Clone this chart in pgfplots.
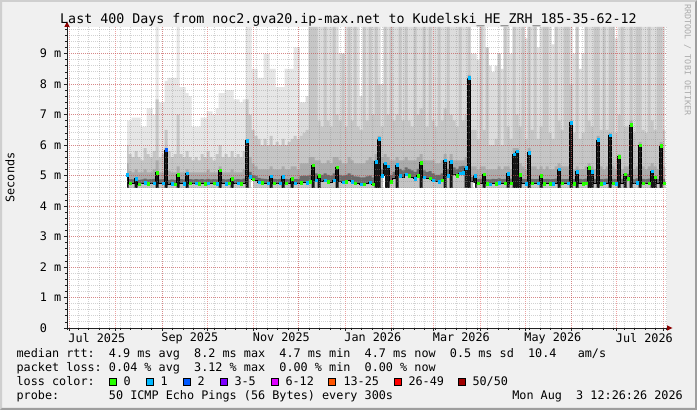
\documentclass[border=0pt]{standalone}
\usepackage{fontspec}
\setmainfont{DejaVu Sans Mono}
\usepackage{pgfplots}
\pgfplotsset{compat=1.18}
\usepackage{pgfplotstable}
\frenchspacing
\newcommand\legfont{\fontsize{11.8pt}{14pt}\selectfont}
\newcommand\titfont{\fontsize{13.3pt}{16pt}\selectfont}
\definecolor{bgc}{HTML}{F0F0F0}
\definecolor{shadeA}{HTML}{CFCFCF}
\definecolor{shadeB}{HTML}{9E9E9E}
\definecolor{axisc}{HTML}{202020}
\definecolor{arrowc}{HTML}{8B0000}
\definecolor{gridc}{HTML}{8F8F8F}
\definecolor{mgridc}{HTML}{DE3030}
\definecolor{sAearly}{HTML}{E6E6E6}
\definecolor{sA}{HTML}{DCDCDC}
\definecolor{sB}{HTML}{C6C6C6}
\definecolor{sC}{HTML}{ABABAB}
\definecolor{sD}{HTML}{6A6A6A}
\definecolor{sBelow}{HTML}{C4C4C4}
\definecolor{sSpk}{HTML}{161616}
\definecolor{lc0}{HTML}{26FF00}
\definecolor{lc1}{HTML}{00B8FF}
\definecolor{lc2}{HTML}{0059FF}
\definecolor{lc3}{HTML}{7E00FF}
\definecolor{lc4}{HTML}{DD00FF}
\definecolor{lc5}{HTML}{FF5500}
\definecolor{lc6}{HTML}{FF0000}
\definecolor{lc7}{HTML}{A10000}
\definecolor{credit}{HTML}{ABABAB}

\pgfplotstableread{
d q3 q2 q3m q1 med sp c
40 6.8 6.0 5.4 5.03 5.03 5.03 c
42 6.8 5.7 5.15 4.88 4.74 0 g
44 6.9 5.6 5.1 4.87 4.73 0 n
46 6.9 5.8 5.2 4.9 4.9 4.9 c
48 6.9 5.6 5.1 4.86 4.72 0 g
50 6.6 5.5 5.1 4.87 4.73 0 n
52 6.6 5.9 5.2 4.9 4.76 0 c
54 7.2 5.7 5.1 4.87 4.73 0 g
56 7.2 5.6 5.1 4.88 4.74 0 n
58 7.0 5.8 5.2 4.89 4.75 0 c
60 9.87 7.5 5.5 5.1 5.1 5.1 g
62 7.4 5.6 5.1 4.87 4.73 0 n
64 7.4 5.7 5.1 4.88 4.74 0 c
66 8.1 6.5 5.9 5.84 5.84 5.84 b
68 8.2 5.8 5.15 4.86 4.72 0 n
70 8.2 5.6 5.1 4.87 4.73 0 c
72 8.2 5.7 5.1 4.86 4.72 0 g
74 9.87 7.0 5.3 5.03 5.03 5.03 g
76 7.9 5.7 5.1 4.88 4.74 0 n
78 7.9 5.6 5.1 4.87 4.73 0 c
80 7.7 5.8 5.2 5.08 5.08 5.08 c
82 7.6 5.6 5.1 4.88 4.74 0 g
84 6.6 5.5 5.1 4.87 4.73 0 n
86 6.6 5.6 5.1 4.88 4.74 0 c
88 6.6 5.5 5.1 4.87 4.73 0 g
90 6.9 5.7 5.1 4.88 4.74 0 n
92 6.9 5.6 5.1 4.87 4.73 0 g
94 7.1 5.8 5.2 4.89 4.75 0 c
96 7.1 5.6 5.1 4.87 4.73 0 n
98 7.0 5.5 5.1 4.88 4.74 0 g
100 7.2 5.7 5.1 4.87 4.73 0 c
102 7.7 6.0 5.3 5.18 5.18 5.18 g
104 7.7 5.6 5.1 4.88 4.74 0 n
106 7.8 5.7 5.1 4.87 4.73 0 c
108 7.8 5.6 5.1 4.88 4.74 0 g
110 7.8 5.8 5.2 4.9 4.9 4.9 g
112 7.5 5.6 5.1 4.87 4.73 0 n
114 7.5 5.7 5.1 4.88 4.74 0 c
116 7.4 5.6 5.1 4.87 4.73 0 g
118 7.5 5.8 5.2 4.9 4.76 0 n
120 9.87 7.5 6.2 6.14 6.14 6.14 c
122 9.87 7.0 5.6 5.12 4.96 0 c
124 8.5 6.5 5.4 5.02 4.88 0 g
126 8.5 6.3 5.3 4.99 4.85 0 n
128 8.2 6.2 5.2 4.92 4.78 0 c
130 8.2 6.0 5.2 4.9 4.76 0 g
132 9.0 6.2 5.2 4.89 4.75 0 n
134 9.0 6.0 5.2 4.88 4.74 0 c
136 8.5 6.3 5.3 4.97 4.97 4.97 c
138 8.5 6.0 5.2 4.89 4.75 0 g
140 7.9 6.1 5.2 4.88 4.74 0 n
142 7.9 6.0 5.2 4.89 4.75 0 c
144 7.9 6.2 5.3 4.96 4.96 4.96 c
146 8.5 6.0 5.2 4.89 4.75 0 g
148 8.5 6.1 5.2 4.88 4.74 0 n
150 8.5 6.2 5.3 4.9 4.9 4.9 g
152 9.2 6.3 5.3 4.88 4.74 0 c
154 9.2 6.2 5.2 4.89 4.75 0 n
156 7.4 6.3 5.4 4.98 4.76 0 g
158 7.4 6.4 5.4 5.0 4.78 0 n
160 7.6 6.5 5.4 4.99 4.77 0 c
162 9.87 9.87 5.6 5.02 4.8 0 g
164 9.87 9.87 5.6 5.34 5.34 5.34 g
166 9.87 9.87 5.5 5.07 4.85 0 c
168 9.87 6.8 5.5 5.0 5.0 5.0 g
170 9.87 6.6 5.4 5.02 4.8 0 n
172 9.87 9.87 5.4 5.07 4.85 0 c
174 9.87 6.8 5.5 5.02 4.8 0 g
176 9.87 6.6 5.4 5.0 4.78 0 n
178 9.87 9.87 5.6 5.07 4.85 0 c
180 9.87 7.0 5.6 5.28 5.28 5.28 g
182 9.0 6.8 5.5 5.02 4.8 0 n
184 9.0 9.0 5.4 5.0 4.78 0 c
186 9.87 6.6 5.4 5.02 4.8 0 g
188 9.87 9.87 5.6 5.07 4.85 0 n
190 9.87 6.8 5.5 5.02 4.8 0 c
192 9.87 9.87 5.4 4.97 4.75 0 g
194 9.87 6.6 5.4 4.96 4.74 0 n
196 7.6 6.5 5.4 4.94 4.72 0 c
198 9.87 9.87 5.4 4.94 4.72 0 g
200 9.87 6.8 5.5 4.97 4.75 0 n
202 9.87 9.87 5.6 5.0 4.78 0 c
204 9.87 7.0 5.5 4.94 4.72 0 g
206 9.87 9.87 5.7 5.45 5.45 5.45 c
208 9.87 8.0 6.3 6.2 6.2 6.2 c
210 8.0 6.6 5.6 5.2 5.0 0 c
212 9.87 9.87 5.7 5.4 5.4 5.4 c
214 9.87 7.0 5.6 5.3 5.3 5.3 c
216 9.87 9.87 5.5 5.02 4.8 0 g
218 9.87 6.8 5.5 5.12 4.9 0 n
220 9.87 7.0 5.6 5.35 5.35 5.35 c
222 9.87 9.87 5.5 5.22 5.0 0 c
224 9.87 6.8 5.5 5.17 4.95 0 n
226 9.87 9.87 5.6 5.27 5.05 0 c
228 9.87 6.8 5.5 5.22 5.0 0 g
230 9.87 6.6 5.5 5.17 4.95 0 n
232 9.87 9.87 5.5 5.12 4.9 0 c
234 9.87 7.0 5.6 5.22 5.0 0 g
236 9.87 7.2 5.7 5.42 5.42 5.42 g
238 9.87 9.87 5.5 5.17 4.95 0 c
240 9.87 6.6 5.5 5.12 4.9 0 n
242 9.87 9.87 5.5 5.14 4.92 0 g
244 9.87 6.8 5.5 5.07 4.85 0 c
246 9.87 6.6 5.4 5.02 4.8 0 n
248 9.87 9.87 5.4 5.02 4.8 0 c
250 9.87 6.8 5.5 5.07 4.85 0 g
252 9.87 7.2 5.7 5.5 5.5 5.5 c
254 9.87 9.87 5.5 5.22 5.0 0 c
256 9.87 7.0 5.7 5.45 5.45 5.45 c
258 9.87 6.8 5.5 5.27 5.05 0 n
260 9.87 6.6 5.5 5.22 5.0 0 g
262 9.87 9.87 5.5 5.3 5.08 0 c
264 9.87 6.8 5.5 5.32 5.1 0 c
266 9.87 7.0 5.6 5.25 5.25 5.25 c
268 9.87 9.87 8.3 8.2 8.2 8.2 c
270 9.0 6.5 5.3 4.95 4.8 0 n
272 9.0 6.5 5.3 5.0 5.0 5.0 c
274 8.8 6.2 5.2 4.89 4.74 0 g
276 9.87 9.87 5.3 4.9 4.75 0 n
278 9.87 6.5 5.3 5.05 5.05 5.05 g
280 9.2 9.2 5.2 4.88 4.73 0 g
282 8.6 6.0 5.2 4.87 4.72 0 c
284 8.4 6.0 5.2 4.89 4.74 0 n
286 8.6 6.2 5.2 4.88 4.73 0 g
288 9.0 9.0 5.3 4.91 4.76 0 c
290 8.5 6.0 5.2 4.88 4.73 0 n
292 9.87 9.87 5.3 4.89 4.74 0 g
294 9.87 6.6 5.3 5.06 5.06 5.06 c
296 9.0 6.2 5.2 4.9 4.75 0 g
298 9.87 9.87 5.9 5.7 5.7 5.7 c
300 9.87 7.0 5.9 5.8 5.8 5.8 c
302 9.87 6.6 5.4 5.03 5.03 5.03 g
304 9.87 9.87 5.3 4.89 4.74 0 n
306 9.5 6.2 5.2 4.88 4.73 0 c
308 9.87 9.87 5.9 5.75 5.75 5.75 c
310 9.87 6.5 5.3 4.89 4.74 0 g
312 9.87 9.87 5.3 4.88 4.73 0 n
314 9.2 6.2 5.2 4.89 4.74 0 c
316 9.87 6.6 5.3 5.0 5.0 5.0 g
318 9.87 9.87 5.2 4.88 4.73 0 g
320 9.87 9.87 5.3 4.89 4.74 0 n
322 9.87 6.4 5.2 4.88 4.73 0 g
324 9.3 6.2 5.2 4.88 4.73 0 c
326 9.87 9.87 5.3 4.9 4.75 0 n
328 9.87 6.8 5.4 5.21 5.21 5.21 c
330 9.87 6.5 5.3 4.89 4.74 0 g
332 9.87 9.87 5.3 4.88 4.73 0 n
334 9.87 9.87 5.3 4.89 4.74 0 c
336 9.87 8.0 6.8 6.74 6.74 6.74 c
338 9.0 6.4 5.2 4.88 4.73 0 g
340 9.87 9.87 5.3 5.13 5.13 5.13 c
342 8.5 6.2 5.2 4.89 4.74 0 n
344 9.0 6.4 5.2 4.88 4.73 0 g
346 9.87 9.87 5.3 4.9 4.75 0 g
348 9.87 6.8 5.4 5.26 5.26 5.26 g
350 9.87 6.6 5.3 5.13 5.13 5.13 c
352 9.87 9.87 5.2 4.89 4.74 0 n
354 9.87 9.87 6.3 6.17 6.17 6.17 c
356 9.87 6.5 5.3 4.88 4.73 0 g
358 9.87 9.87 5.2 4.89 4.74 0 c
360 9.87 6.5 5.3 4.9 4.75 0 n
362 9.87 9.87 6.4 6.33 6.33 6.33 c
364 9.87 9.87 5.3 4.89 4.74 0 g
366 9.5 6.4 5.2 4.88 4.73 0 c
368 9.87 7.0 5.7 5.62 5.62 5.62 g
370 9.87 9.87 5.2 4.89 4.74 0 n
372 9.87 6.6 5.3 5.05 5.05 5.05 g
374 9.87 6.6 5.3 5.05 4.9 0 g
376 9.87 9.87 6.8 6.66 6.66 6.66 g
378 9.87 6.4 5.2 4.88 4.73 0 n
380 9.87 9.87 5.3 4.91 4.76 0 c
382 9.87 9.87 6.1 6.0 6.0 6.0 g
384 9.87 6.5 5.3 4.89 4.74 0 g
386 9.87 6.4 5.2 4.88 4.73 0 n
388 9.87 9.87 5.3 4.9 4.75 0 g
390 9.87 6.8 5.4 5.14 5.14 5.14 c
392 9.87 6.5 5.3 4.95 4.95 4.95 g
394 9.87 9.87 5.2 4.88 4.73 0 n
396 9.87 9.87 6.1 5.97 5.97 5.97 g
398 9.87 6.5 5.3 4.89 4.74 0 g
398.8 9.87 6.5 5.3 4.89 4.74 0 n
}\smoke

\begin{document}
\begin{tikzpicture}
\useasboundingbox (0pt,0pt) rectangle (697pt,410pt);
\begin{scope}[x=1pt,y=1pt]
\fill[bgc] (0,0) rectangle (697,410);
\fill[shadeA] (0,0) -- (0,410) -- (697,410) -- (695,408) -- (2,408) -- (2,2) -- cycle;
\fill[shadeB] (0,0) -- (697,0) -- (697,410) -- (695,408) -- (695,2) -- (2,2) -- cycle;
\end{scope}
\begin{axis}[
  at={(67pt,82pt)}, anchor=origin,
  scale only axis, width=600pt, height=301pt,
  xmin=0, xmax=400, ymin=0, ymax=9.87,
  axis x line*=bottom, axis y line*=left,
  axis line style={-, draw=axisc, line width=0.8pt},
  axis background/.style={fill=white},
  xtick={1.5,32.5,63.5,93.5,124.5,154.5,185.5,216.5,244.5,275.5,305.5,336.5,366.5,397.5},
  xticklabels={},
  minor xtick={0.5,7.5,...,399.5},
  extra x ticks={1.5,63.5,124.5,185.5,244.5,305.5,366.5},
  extra x tick labels={Jul 2025,Sep 2025,Nov 2025,Jan 2026,Mar 2026,May 2026,Jul 2026},
  extra x tick style={grid=none, major tick length=0pt,
     xticklabel style={anchor=north west, inner sep=0pt, yshift=-5pt, xshift=-1pt}},
  ytick={0,1,...,9},
  yticklabels={0\hphantom{ m},1 m,2 m,3 m,4 m,5 m,6 m,7 m,8 m,9 m},
  minor ytick={0.2,0.4,...,9.8},
  tick label style={font=\legfont, text=black},
  yticklabel style={inner sep=0pt, xshift=-2.5pt},
  tick align=outside,
  major tick length=3pt, minor tick length=2pt,
  tick style={draw=axisc, line width=0.6pt},
  grid=both,
  major grid style={draw=mgridc, draw opacity=0.45, line width=0.8pt, dash pattern=on 1pt off 1pt},
  minor grid style={draw=gridc, draw opacity=0.4, line width=0.8pt, dash pattern=on 1pt off 1pt},
  axis on top,
]
\addplot[const plot mark mid, draw=none, fill=sAearly, restrict x to domain=0:157] table[x=d,y=q3] {\smoke} \closedcycle;
\addplot[const plot mark mid, draw=none, fill=sA, restrict x to domain=153:400] table[x=d,y=q3] {\smoke} \closedcycle;
\addplot[const plot mark mid, draw=none, fill=sB] table[x=d,y=q2] {\smoke} \closedcycle;
\addplot[const plot mark mid, draw=none, fill=sC] table[x=d,y=q3m] {\smoke} \closedcycle;
\addplot[const plot mark mid, draw=none, fill=sD] table[x=d,y=q1] {\smoke} \closedcycle;
\addplot[const plot mark mid, draw=none, fill=sBelow] table[x=d,y=med] {\smoke} \closedcycle;
\addplot[const plot mark mid, draw=none, fill=sSpk] table[x=d,y=sp] {\smoke} \closedcycle;
\addplot[draw=none, fill=white] coordinates {(0,4.6) (400,4.6)} \closedcycle;
\addplot[ycomb, draw=white, line width=2pt] coordinates {(123,4.93) (211,4.97) (271,4.77)};
\addplot[const plot mark mid, draw=black, line width=0.6pt] table[x=d,y=med] {\smoke};
\addplot[only marks, scatter, scatter src=explicit symbolic, mark size=1.25pt,
  scatter/classes={g={mark=square*, draw=lc0, fill=lc0},
                   c={mark=square*, draw=lc1, fill=lc1},
                   b={mark=square*, draw=lc2, fill=lc2},
                   n={mark=square*, draw opacity=0, fill opacity=0}}]
  table[x=d, y=med, meta=c] {\smoke};
\end{axis}
\begin{scope}[x=1pt,y=1pt]
% axis arrows
\fill[arrowc] (64.3,383) -- (69.7,383) -- (67,388.5) -- cycle;
\fill[arrowc] (667,79.3) -- (667,84.7) -- (672.5,82) -- cycle;
% texts
\node[anchor=base, inner sep=0pt, font=\titfont] at (348.5,386) {Last 400 Days from noc2.gva20.ip-max.net to Kudelski\_HE\_ZRH\_185-35-62-12};
\node[rotate=90, inner sep=0pt, font=\legfont] at (10,232.5) {Seconds};
\node[rotate=-90, inner sep=0pt, font=\fontsize{8.4pt}{10pt}\selectfont, text=credit] at (687.5,350) {RRDTOOL / TOBI OETIKER};
\node[anchor=base west, inner sep=0pt, font=\legfont] at (16.4,52) {median rtt:~~4.9 ms avg~~8.2 ms max~~4.7 ms min~~4.7 ms now~~0.5 ms sd~~10.4~~~am/s};
\node[anchor=base west, inner sep=0pt, font=\legfont] at (16.4,38) {packet loss: 0.04 \% avg~~3.12 \% max~~0.00 \% min~~0.00 \% now};
\node[anchor=base west, inner sep=0pt, font=\legfont] at (16.4,24) {loss color:};
\node[anchor=base west, inner sep=0pt, font=\legfont] at (16.4,10) {probe:~~~~~~~50 ICMP Echo Pings (56 Bytes) every 300s};
\node[anchor=base east, inner sep=0pt, font=\legfont] at (683,10) {Mon Aug~~3 12:26:26 2026};
% loss colour boxes
\foreach \bx/\lx/\col/\lab in {109/123.3/lc0/0, 146/160.3/lc1/1, 183/197.3/lc2/2, 220/234.3/lc3/3-5, 271/285.3/lc4/6-12, 328/343.3/lc5/13-25, 394/408.3/lc6/26-49, 458/472.3/lc7/50\slash 50}{
  \filldraw[fill=\col, draw=black, line width=0.8pt] (\bx,24.3) rectangle ++(7.5,7.5);
  \node[anchor=base west, inner sep=0pt, font=\legfont] at (\lx,24) {\lab};
}
\end{scope}
\end{tikzpicture}
\end{document}
